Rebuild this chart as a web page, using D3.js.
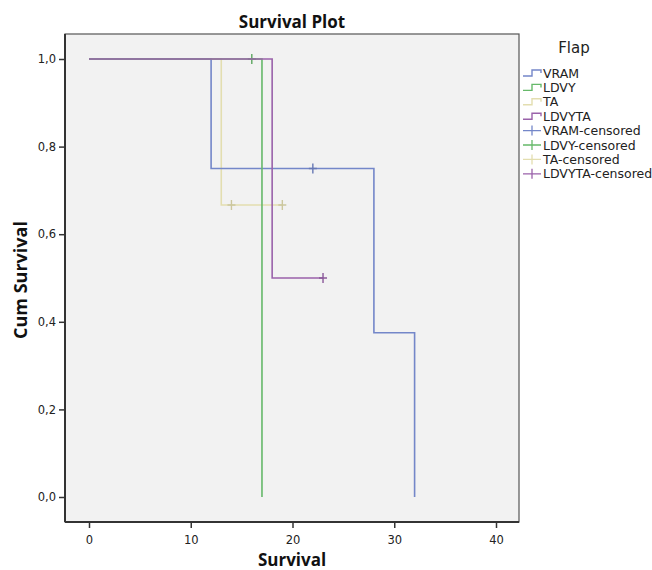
<!DOCTYPE html>
<html>
<head>
<meta charset="utf-8">
<script src="https://cdn.jsdelivr.net/npm/d3@7"></script>
<style>
  body { margin: 0; background: #fff; }
  text { font-family: "DejaVu Sans", sans-serif; }
  .bold { font-family: "Open Sans", sans-serif; font-weight: bold; }
</style>
</head>
<body>
<svg width="652" height="570"></svg>
<script>
// data
const groups = ["VRAM", "LDVY", "TA", "LDVYTA"];
const colors = ["#7487c9", "#66b96a", "#e3deb0", "#9a62aa"];
// step curves: [time, survival] at each change
const vramSteps = [[0, 1], [12, 0.75], [28, 0.375], [32, 0]];
const ldvySteps = [[0, 1], [17, 0]];
const taSteps = [[0, 1], [13, 0.6667]];
const ldvytaSteps = [[0, 1], [18, 0.5]];
// last time each curve reaches
const endTimes = [32, 17, 19, 23];
// censored marks [time, survival]
const vramCens = [[22, 0.75]];
const ldvyCens = [[16, 1]];
const taCens = [[14, 0.6667], [19, 0.6667]];
const ldvytaCens = [[23, 0.5]];
const xTicks = [0, 10, 20, 30, 40];
const yTicks = [0, 0.2, 0.4, 0.6, 0.8, 1.0];

const steps = [vramSteps, ldvySteps, taSteps, ldvytaSteps];
const cens = [vramCens, ldvyCens, taCens, ldvytaCens];

const svg = d3.select("svg");
const box = { left: 65, right: 519, top: 34, bottom: 522 };

const x = d3.scaleLinear().domain([0, 40]).range([89, 496]);
const y = d3.scaleLinear().domain([0, 1]).range([497, 59]);

// plot background
svg.append("rect")
    .attr("x", box.left).attr("y", box.top)
    .attr("width", box.right - box.left).attr("height", box.bottom - box.top)
    .attr("fill", "#f2f2f2")
    .attr("stroke", "#555").attr("stroke-width", 1.2);

// axes
const xAxis = svg.append("g")
    .attr("transform", `translate(0,${box.bottom})`)
    .call(d3.axisBottom(x).tickValues(xTicks).tickSize(6).tickSizeOuter(0));
const yAxis = svg.append("g")
    .attr("transform", `translate(${box.left},0)`)
    .call(d3.axisLeft(y).tickValues(yTicks).tickSize(6).tickSizeOuter(0)
        .tickFormat(d => d3.format(".1f")(d).replace(".", ",")));
[xAxis, yAxis].forEach(a => {
    a.select(".domain").remove();
    a.selectAll("line").attr("stroke", "#333").attr("stroke-width", 1.5);
    a.selectAll("text").attr("font-size", 11.5).attr("fill", "#222")
        .attr("font-family", "DejaVu Sans");
});
xAxis.selectAll("text").attr("dy", "1.1em");
// thicker left and bottom lines
svg.append("line").attr("x1", box.left).attr("x2", box.left)
    .attr("y1", box.top).attr("y2", box.bottom)
    .attr("stroke", "#333").attr("stroke-width", 2);
svg.append("line").attr("x1", box.left).attr("x2", box.right)
    .attr("y1", box.bottom).attr("y2", box.bottom)
    .attr("stroke", "#333").attr("stroke-width", 2);

// survival curves
const line = d3.line().x(d => x(d[0])).y(d => y(d[1])).curve(d3.curveStepAfter);
const order = [2, 0, 1, 3];
order.forEach(i => {
    const pts = steps[i].slice();
    const last = pts[pts.length - 1];
    if (endTimes[i] > last[0]) pts.push([endTimes[i], last[1]]);
    svg.append("path")
        .attr("d", line(pts))
        .attr("fill", "none")
        .attr("stroke", colors[i])
        .attr("stroke-width", 1.6);
    cens[i].forEach(c => {
        svg.append("path")
            .attr("d", `M${x(c[0]) - 4},${y(c[1])}H${x(c[0]) + 4}M${x(c[0])},${y(c[1]) - 5}V${y(c[1]) + 5}`)
            .attr("stroke", d3.color(colors[i]).darker(0.3))
            .attr("stroke-width", 1.4);
    });
});

// titles
svg.append("text").attr("class", "bold")
    .attr("x", 292).attr("y", 28).attr("text-anchor", "middle")
    .attr("font-size", 17).attr("fill", "#111").text("Survival Plot");
svg.append("text").attr("class", "bold")
    .attr("x", 292).attr("y", 566).attr("text-anchor", "middle")
    .attr("font-size", 17).attr("fill", "#111").text("Survival");
svg.append("text").attr("class", "bold")
    .attr("transform", "translate(27,280) rotate(-90)")
    .attr("text-anchor", "middle")
    .attr("font-size", 18).attr("fill", "#111").text("Cum Survival");

// legend
const leg = svg.append("g");
leg.append("text").attr("x", 574).attr("y", 53).attr("text-anchor", "middle")
    .attr("font-family", "Open Sans").attr("font-size", 15).attr("fill", "#222").text("Flap");
const labels = groups.concat(groups.map(g => g + "-censored"));
labels.forEach((lab, k) => {
    const yy = 73 + k * 14.4;
    const c = colors[k % 4];
    if (k < 4) {
        leg.append("path")
            .attr("d", `M523,${yy + 3}H532V${yy - 3}H541V${yy}`)
            .attr("fill", "none").attr("stroke", c).attr("stroke-width", 1.4);
    } else {
        leg.append("path")
            .attr("d", `M523,${yy}H541M532,${yy - 5}V${yy + 5}`)
            .attr("stroke", c).attr("stroke-width", 1.3);
    }
    leg.append("text").attr("x", 543).attr("y", yy + 4.5)
        .attr("font-family", "Open Sans").attr("font-size", 12.5).attr("fill", "#222")
        .text(lab);
});
</script>
</body>
</html>
